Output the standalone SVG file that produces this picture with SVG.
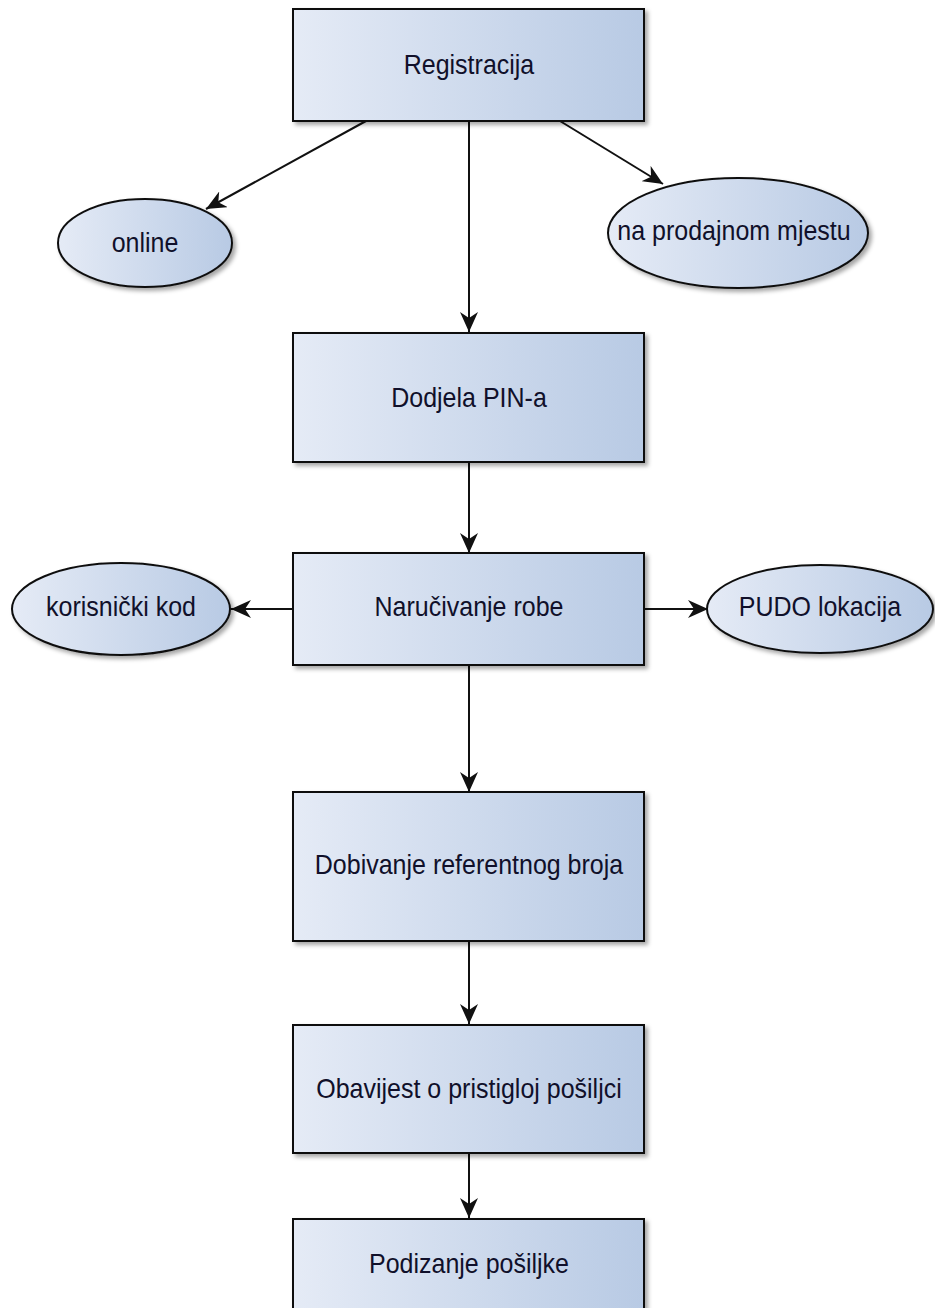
<svg xmlns="http://www.w3.org/2000/svg" width="935" height="1308" viewBox="0 0 935 1308">
<style>
.box{fill:url(#g);stroke:#111;stroke-width:2;filter:url(#sh)}
.lbl{font-family:"Liberation Sans",Arial,sans-serif;font-size:25px;fill:#10102a;text-anchor:middle}
.con{stroke:#111;stroke-width:2;fill:none;marker-end:url(#arr)}
</style>
<defs>
<linearGradient id="g" x1="0" y1="0" x2="1" y2="0">
<stop offset="0" stop-color="#e5ebf6"/>
<stop offset="1" stop-color="#b8cae4"/>
</linearGradient>
<filter id="sh" x="-10%" y="-10%" width="130%" height="130%">
<feDropShadow dx="3" dy="3" stdDeviation="2" flood-color="#000" flood-opacity="0.35"/>
</filter>
<marker id="arr" markerUnits="userSpaceOnUse" markerWidth="22" markerHeight="18" refX="20" refY="9" orient="auto">
<path d="M0,0 L20,9 L0,18 L6,9 Z" fill="#111"/>
</marker>
</defs>
<rect width="935" height="1308" fill="#fff"/>
<g id="connectors">
<line class="con" x1="366" y1="121" x2="206" y2="209"/>
<line class="con" x1="469" y1="121" x2="469" y2="332"/>
<line class="con" x1="560" y1="121" x2="663" y2="184"/>
<line class="con" x1="469" y1="462" x2="469" y2="553"/>
<line class="con" x1="293" y1="609" x2="231" y2="609"/>
<line class="con" x1="644" y1="609" x2="708" y2="609"/>
<line class="con" x1="469" y1="665" x2="469" y2="792"/>
<line class="con" x1="469" y1="941" x2="469" y2="1024"/>
<line class="con" x1="469" y1="1153" x2="469" y2="1218"/>
</g>
<g id="registracija">
<rect class="box" x="293" y="9" width="351" height="112"/>
<text class="lbl" transform="translate(469,74) scale(1,1.1)">Registracija</text>
</g>
<g id="online">
<ellipse class="box" cx="145" cy="243" rx="87" ry="44"/>
<text class="lbl" transform="translate(145,252) scale(1,1.1)">online</text>
</g>
<g id="na-prodajnom-mjestu">
<ellipse class="box" cx="738" cy="233" rx="130" ry="55"/>
<text class="lbl" transform="translate(734,240) scale(1,1.1)">na prodajnom mjestu</text>
</g>
<g id="dodjela-pin">
<rect class="box" x="293" y="333" width="351" height="129"/>
<text class="lbl" transform="translate(469,407) scale(1,1.1)">Dodjela PIN-a</text>
</g>
<g id="narucivanje-robe">
<rect class="box" x="293" y="553" width="351" height="112"/>
<text class="lbl" transform="translate(469,616) scale(1,1.1)">Naručivanje robe</text>
</g>
<g id="korisnicki-kod">
<ellipse class="box" cx="121" cy="609" rx="109" ry="46"/>
<text class="lbl" transform="translate(121,616) scale(1,1.1)">korisnički kod</text>
</g>
<g id="pudo-lokacija">
<ellipse class="box" cx="820" cy="609" rx="113" ry="44"/>
<text class="lbl" transform="translate(820,616) scale(1,1.1)">PUDO lokacija</text>
</g>
<g id="dobivanje-referentnog-broja">
<rect class="box" x="293" y="792" width="351" height="149"/>
<text class="lbl" transform="translate(469,874) scale(1,1.1)">Dobivanje referentnog broja</text>
</g>
<g id="obavijest">
<rect class="box" x="293" y="1025" width="351" height="128"/>
<text class="lbl" transform="translate(469,1098) scale(1,1.1)">Obavijest o pristigloj pošiljci</text>
</g>
<g id="podizanje-posiljke">
<rect class="box" x="293" y="1219" width="351" height="120"/>
<text class="lbl" transform="translate(469,1273) scale(1,1.1)">Podizanje pošiljke</text>
</g>
</svg>
